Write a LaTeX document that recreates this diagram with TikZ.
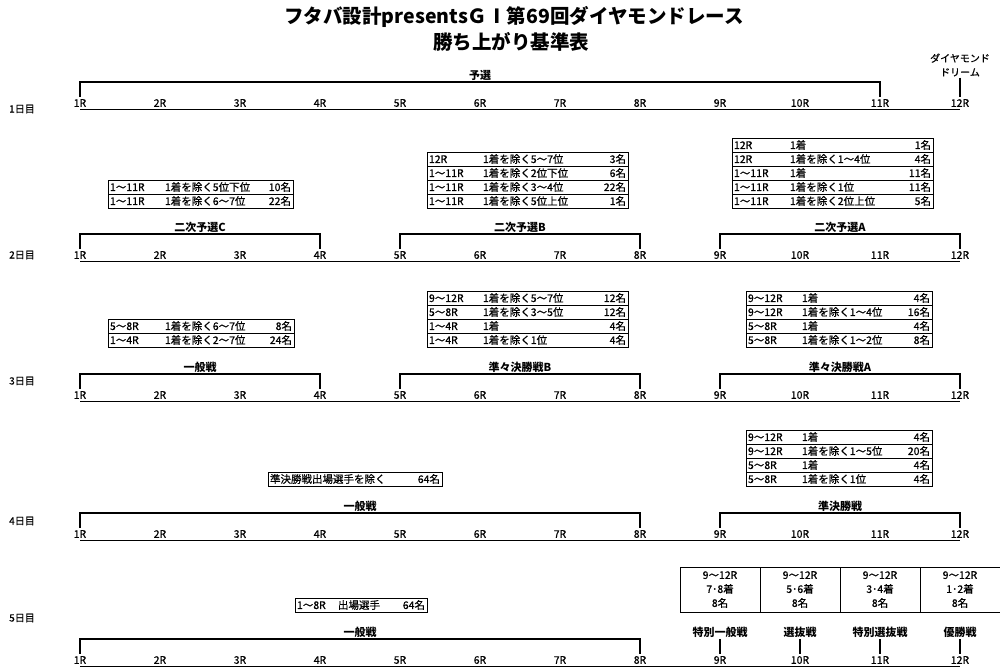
\documentclass[tikz,border=0pt]{standalone}
\usepackage{fontspec}
\setmainfont{Noto Sans CJK JP}
\newfontfamily\medfont{Noto Sans CJK JP}[FakeBold=0.6]
\tikzset{
  rlab/.style={inner xsep=0pt,inner ysep=2.2pt,font=\medfont\fontsize{10.5}{11}\selectfont},
  grp/.style={anchor=south,inner sep=1.5pt,font=\fontsize{11}{12}\selectfont\bfseries},
  daylab/.style={inner sep=0pt,font=\medfont\fontsize{10}{11}\selectfont},
  brk/.style={line width=1.2pt},
  baseln/.style={line width=1.3pt},
  tabrow/.style={draw,line width=0.9pt,inner xsep=2pt,inner ysep=0pt,minimum height=14pt,font=\medfont\fontsize{10.5}{11}\selectfont},
  cellbox/.style={draw,line width=0.9pt,minimum width=80pt,minimum height=45pt,align=center,inner sep=0pt,font=\medfont\fontsize{10.5}{14}\selectfont},
  ttl/.style={inner sep=0pt,font=\fontsize{19.5}{22}\selectfont\bfseries}
}
\begin{document}
\begin{tikzpicture}[x=1pt,y=-1pt]
\useasboundingbox (0,0) rectangle (1000,668);
% title
\node[ttl] (t1) at (514,17) {フタバ設計presentsＧⅠ第69回ダイヤモンドレース};
\node[ttl] (t2) at (511,42) {勝ち上がり基準表};
% race numbers and base lines
\foreach \d/\y in {1/103,2/255,3/395,4/534,5/660} {
  \foreach \i in {1,...,12}
    \node[rlab] (r\d-\i) at (80*\i,\y) {\i R};
  \draw[baseln] (r\d-1.south) -- (r\d-12.south);
}
% days
\node[daylab] (d1) at (22,109) {1日目};
\node[daylab] (d2) at (22,255) {2日目};
\node[daylab] (d3) at (22,381) {3日目};
\node[daylab] (d4) at (22,521) {4日目};
\node[daylab] (d5) at (22,618) {5日目};

% day 1
\node[grp] (g1) at (480,82) {予選};
\draw[brk] (r1-1.north) |- (g1.south) -| (r1-11.north);
\node[align=center,inner sep=1pt,font=\medfont\fontsize{10}{14}\selectfont] (dd) at (960,65) {ダイヤモンド\\ドリーム};
\draw[brk] (dd.south) -- (r1-12.north);

\foreach \rng/\cond/\cnt [count=\n] in {1〜11R/1着を除く5位下位/10名,1〜11R/1着を除く6〜7位/22名}
  \node[tabrow,text width=181pt] (ta-\n) at (200.5,{173+14*\n}) {\makebox[55pt][l]{\rng}\cond\hfill\cnt};
\foreach \rng/\cond/\cnt [count=\n] in {12R/1着を除く5〜7位/3名,1〜11R/1着を除く2位下位/6名,1〜11R/1着を除く3〜4位/22名,1〜11R/1着を除く5位上位/1名}
  \node[tabrow,text width=197pt] (tb-\n) at (527.5,{145+14*\n}) {\makebox[54pt][l]{\rng}\cond\hfill\cnt};
\foreach \rng/\cond/\cnt [count=\n] in {12R/1着/1名,12R/1着を除く1〜4位/4名,1〜11R/1着/11名,1〜11R/1着を除く1位/11名,1〜11R/1着を除く2位上位/5名}
  \node[tabrow,text width=197pt] (tc-\n) at (832.5,{131+14*\n}) {\makebox[56pt][l]{\rng}\cond\hfill\cnt};

% day 2
\node[grp] (g2c) at (200,234) {二次予選C};
\node[grp] (g2b) at (520,234) {二次予選B};
\node[grp] (g2a) at (840,234) {二次予選A};
\draw[brk] (r2-1.north) |- (g2c.south) -| (r2-4.north);
\draw[brk] (r2-5.north) |- (g2b.south) -| (r2-8.north);
\draw[brk] (r2-9.north) |- (g2a.south) -| (r2-12.north);

\foreach \rng/\cond/\cnt [count=\n] in {5〜8R/1着を除く6〜7位/8名,1〜4R/1着を除く2〜7位/24名}
  \node[tabrow,text width=182pt] (ua-\n) at (201,{312+14*\n}) {\makebox[55pt][l]{\rng}\cond\hfill\cnt};
\foreach \rng/\cond/\cnt [count=\n] in {9〜12R/1着を除く5〜7位/12名,5〜8R/1着を除く3〜5位/12名,1〜4R/1着/4名,1〜4R/1着を除く1位/4名}
  \node[tabrow,text width=197pt] (ub-\n) at (527.5,{284+14*\n}) {\makebox[54pt][l]{\rng}\cond\hfill\cnt};
\foreach \rng/\cond/\cnt [count=\n] in {9〜12R/1着/4名,9〜12R/1着を除く1〜4位/16名,5〜8R/1着/4名,5〜8R/1着を除く1〜2位/8名}
  \node[tabrow,text width=182pt] (uc-\n) at (839,{284+14*\n}) {\makebox[54pt][l]{\rng}\cond\hfill\cnt};

% day 3
\node[grp] (g3c) at (200,374) {一般戦};
\node[grp] (g3b) at (520,374) {準々決勝戦B};
\node[grp] (g3a) at (840,374) {準々決勝戦A};
\draw[brk] (r3-1.north) |- (g3c.south) -| (r3-4.north);
\draw[brk] (r3-5.north) |- (g3b.south) -| (r3-8.north);
\draw[brk] (r3-9.north) |- (g3a.south) -| (r3-12.north);

\node[tabrow,text width=170pt] (va) at (355,479) {準決勝戦出場選手を除く\hfill 64名};
\foreach \rng/\cond/\cnt [count=\n] in {9〜12R/1着/4名,9〜12R/1着を除く1〜5位/20名,5〜8R/1着/4名,5〜8R/1着を除く1位/4名}
  \node[tabrow,text width=182pt] (vc-\n) at (839,{423+14*\n}) {\makebox[54pt][l]{\rng}\cond\hfill\cnt};

% day 4
\node[grp] (g4b) at (360,513) {一般戦};
\node[grp] (g4a) at (840,513) {準決勝戦};
\draw[brk] (r4-1.north) |- (g4b.south) -| (r4-8.north);
\draw[brk] (r4-9.north) |- (g4a.south) -| (r4-12.north);

\node[tabrow,text width=128pt] (wa) at (361,605) {\makebox[41pt][l]{1〜8R}出場選手\hfill 64名};
\foreach \i/\pl in {9/7･8,10/5･6,11/3･4,12/1･2}
  \node[cellbox] (w-\i) at (80*\i,589.5) {9〜12R\\\pl 着\\8名};

% day 5
\node[grp] (g5) at (360,639) {一般戦};
\draw[brk] (r5-1.north) |- (g5.south) -| (r5-8.north);
\foreach \i/\nm in {9/特別一般戦,10/選抜戦,11/特別選抜戦,12/優勝戦} {
  \node[grp] (s\i) at (80*\i,639) {\nm};
  \draw[brk] (s\i.south) -- (r5-\i.north);
}
\end{tikzpicture}
\end{document}
